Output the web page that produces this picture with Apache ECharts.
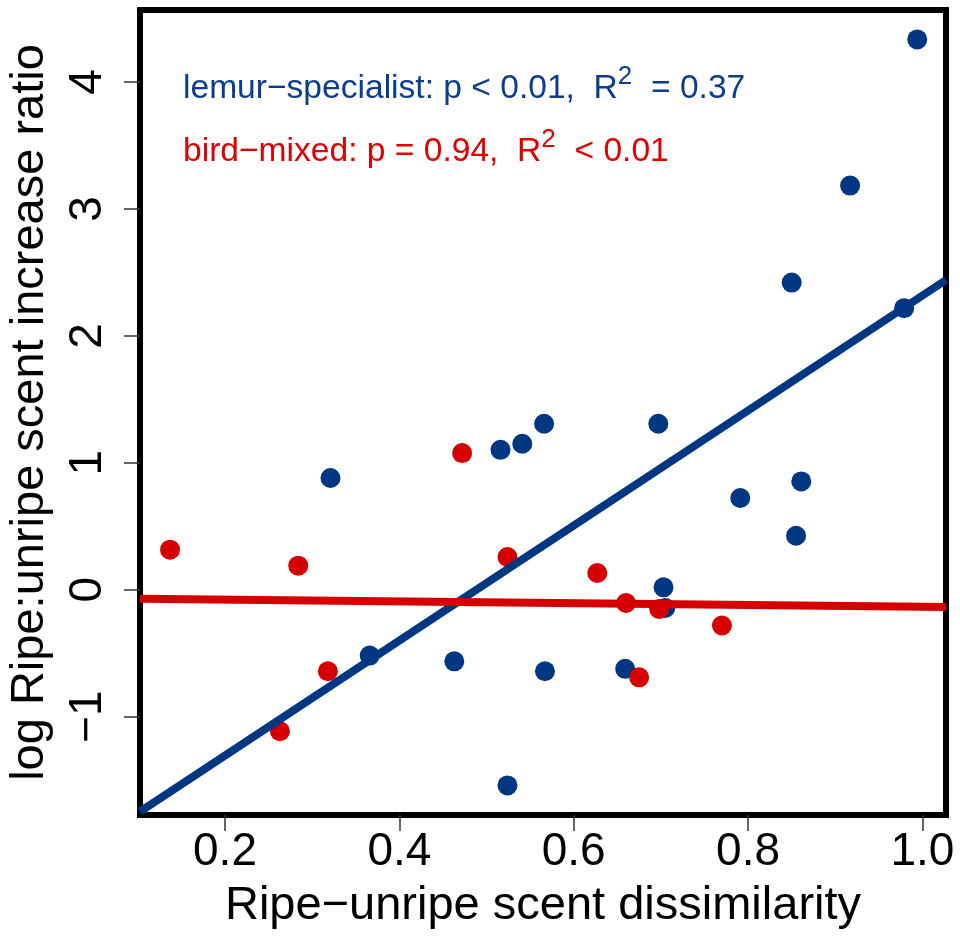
<!DOCTYPE html>
<html><head><meta charset="utf-8">
<script src="https://cdn.jsdelivr.net/npm/echarts@6/dist/echarts.min.js"></script>
<style>html,body{margin:0;padding:0;background:#fff}#c{width:960px;height:938px}</style>
</head><body><div id="c"></div>
<script>
const xTicks = [0.2, 0.4, 0.6, 0.8, 1.0];
const yTicks = [-1, 0, 1, 2, 3, 4];
const xRange = [0.1025, 1.027];
const yRange = [-1.776, 4.568];

const lemurX = [0.994, 0.917, 0.850, 0.979, 0.321, 0.516, 0.541, 0.566, 0.697, 0.791, 0.861, 0.855, 0.703, 0.705, 0.366, 0.463, 0.567, 0.659, 0.524];
const lemurY = [4.336, 3.184, 2.420, 2.218, 0.880, 1.102, 1.150, 1.307, 1.307, 0.722, 0.853, 0.425, 0.018, -0.144, -0.520, -0.565, -0.643, -0.624, -1.543];

const birdX = [0.137, 0.284, 0.472, 0.524, 0.627, 0.660, 0.698, 0.770, 0.318, 0.675, 0.263];
const birdY = [0.315, 0.189, 1.076, 0.257, 0.131, -0.105, -0.152, -0.283, -0.643, -0.691, -1.116];

const lemurFitX = [0.1025, 1.027];
const lemurFitY = [-1.75, 2.44];
const birdFitX = [0.1025, 1.027];
const birdFitY = [-0.071, -0.136];

const lemurLabel = ['lemur\u2212specialist: p < 0.01,  R', '2', '  = 0.37'];
const birdLabel = ['bird\u2212mixed: p = 0.94,  R', '2', '  < 0.01'];

const BLUE = '#003783';
const RED = '#d60000';
const FONT = '"Liberation Sans", Arial, Helvetica, sans-serif';

const zip = (a, b) => a.map((v, i) => [v, b[i]]);

function annot(parts, color, top) {
  return {
    type: 'text', left: 183, top: top, z: 100,
    style: {
      text: '{a|' + parts[0] + '}{s|' + parts[1] + '}{a|' + parts[2] + '}',
      rich: {
        a: { fontFamily: FONT, fontSize: 33.6, lineHeight: 40, fill: color, color: color },
        s: { fontFamily: FONT, fontSize: 26, lineHeight: 16, height: 16, verticalAlign: 'top', fill: color, color: color }
      },
      fill: color
    }
  };
}

const chart = echarts.init(document.getElementById('c'), null, { renderer: 'canvas' });
chart.setOption({
  backgroundColor: '#ffffff',
  animation: false,
  grid: { left: 140, right: 14, top: 10, bottom: 123, containLabel: false, outerBoundsMode: 'none',
          show: true, borderColor: '#000', borderWidth: 6, backgroundColor: 'transparent' },
  xAxis: {
    type: 'value', min: xRange[0], max: xRange[1],
    name: 'Ripe\u2212unripe scent dissimilarity', nameLocation: 'middle', nameGap: 68,
    nameTextStyle: { fontFamily: FONT, fontSize: 47, color: '#000' },
    axisLine: { show: false, onZero: false },
    splitLine: { show: false },
    axisTick: { show: true, inside: false, length: 16, customValues: xTicks, lineStyle: { color: '#333', width: 1.5 } },
    axisLabel: { show: true, margin: 14, customValues: xTicks, fontFamily: FONT, fontSize: 46, color: '#000',
                 formatter: v => v.toFixed(1) }
  },
  yAxis: {
    type: 'value', min: yRange[0], max: yRange[1],
    name: 'log Ripe:unripe scent increase ratio', nameLocation: 'middle', nameGap: 86,
    nameTextStyle: { fontFamily: FONT, fontSize: 47, color: '#000' },
    axisLine: { show: false, onZero: false },
    splitLine: { show: false },
    axisTick: { show: true, inside: false, length: 16, customValues: yTicks, lineStyle: { color: '#333', width: 1.5 } },
    axisLabel: { show: true, margin: 29, rotate: 90, customValues: yTicks, fontFamily: FONT, fontSize: 46, color: '#000',
                 formatter: v => String(v).replace('-', '\u2212') }
  },
  graphic: [annot(lemurLabel, '#0a3d8f', 64), annot(birdLabel, '#e00000', 127)],
  series: [
    { type: 'scatter', name: 'lemur-specialist', data: zip(lemurX, lemurY), symbol: 'circle', symbolSize: 20,
      itemStyle: { color: BLUE, opacity: 1 }, z: 2 },
    { type: 'scatter', name: 'bird-mixed', data: zip(birdX, birdY), symbol: 'circle', symbolSize: 20,
      itemStyle: { color: RED, opacity: 1 }, z: 3 },
    { type: 'line', name: 'lemur fit', data: zip(lemurFitX, lemurFitY), symbol: 'none', clip: true,
      lineStyle: { color: BLUE, width: 8 }, z: 4 },
    { type: 'line', name: 'bird fit', data: zip(birdFitX, birdFitY), symbol: 'none', clip: true,
      lineStyle: { color: RED, width: 8 }, z: 5 }
  ]
});
</script>
</body></html>
